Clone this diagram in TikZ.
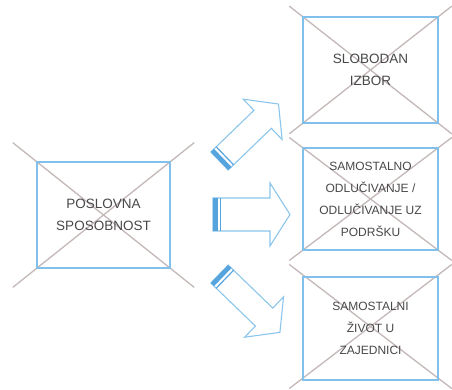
\documentclass[tikz,border=0pt]{standalone}
\usepackage{fontspec}
\setmainfont{Liberation Sans}
\usetikzlibrary{calc}
\definecolor{boxblue}{RGB}{128,192,234}
\definecolor{crossgray}{RGB}{196,184,184}
\definecolor{arrowblue}{RGB}{140,198,236}
\definecolor{bandblue}{RGB}{86,164,222}
\definecolor{txtgray}{RGB}{72,72,72}
\tikzset{
  phbox/.style={draw=boxblue, line width=2pt, inner sep=0pt, align=center,
    text=txtgray, font=\fontsize{12}{22}\selectfont},
  bigtxt/.style={font=\fontsize{13.5}{22}\selectfont},
  crossline/.style={draw=crossgray, line width=1.3pt},
  arrowline/.style={draw=arrowblue, line width=1.1pt, line join=miter},
}
\newcommand\blkarrow[7]{%
  \begin{scope}[shift={(#1,#2)},rotate=#3]
    \draw[arrowline,fill=white] (0,-#5) -- (#7,-#5) -- (#7,-#6) -- (#4,0) -- (#7,#6) -- (#7,#5) -- (0,#5) -- cycle;
    \fill[bandblue] (0,-#5) rectangle (4.5,#5);
    \draw[bandblue, line width=1.2pt] (7.5,-#5) -- (7.5,#5);
  \end{scope}}
\begin{document}
\begin{tikzpicture}[x=1pt,y=-1pt]
\useasboundingbox (0,0) rectangle (452,390);
\fill[white] (0,0) rectangle (452,390);
% box geometry (invisible anchors)
\path (103.5,215) node[minimum width=133pt, minimum height=106pt, inner sep=0pt] (a) {};
\path (370.5,70) node[minimum width=135pt, minimum height=106pt, inner sep=0pt] (b) {};
\path (370.5,199) node[minimum width=135pt, minimum height=102pt, inner sep=0pt] (c) {};
\path (370.5,326.5) node[minimum width=135pt, minimum height=103pt, inner sep=0pt] (d) {};
% crosses
\draw[crossline] ($(a.south east)!1.18!(a.north west)$) -- ($(a.north west)!1.18!(a.south east)$);
\draw[crossline] ($(a.south west)!1.18!(a.north east)$) -- ($(a.north east)!1.18!(a.south west)$);
\foreach \n in {b,c,d}{
  \draw[crossline] ($(\n.south east)!1.1!(\n.north west)$) -- ($(\n.north west)!1.1!(\n.south east)$);
  \draw[crossline] ($(\n.south west)!1.1!(\n.north east)$) -- ($(\n.north east)!1.1!(\n.south west)$);
}
% boxes with text
\node[phbox, bigtxt, minimum width=133pt, minimum height=106pt] at (a) {POSLOVNA\\SPOSOBNOST};
\node[phbox, bigtxt, minimum width=135pt, minimum height=106pt] at (b) {SLOBODAN\\IZBOR};
\node[phbox, minimum width=135pt, minimum height=102pt] at (c) {SAMOSTALNO\\ODLUČIVANJE /\\ODLUČIVANJE UZ\\PODRŠKU};
\node[phbox, minimum width=135pt, minimum height=103pt] at ([yshift=-2pt]d.center) {SAMOSTALNI\\ŽIVOT U\\ZAJEDNICI};
% block arrows
\blkarrow{219.5}{161}{44}{82}{12.5}{28}{60}
\blkarrow{213}{214.5}{0}{77}{16.5}{31.5}{57}
\blkarrow{219.5}{274}{-44}{84}{12.5}{28}{62}
\end{tikzpicture}
\end{document}
